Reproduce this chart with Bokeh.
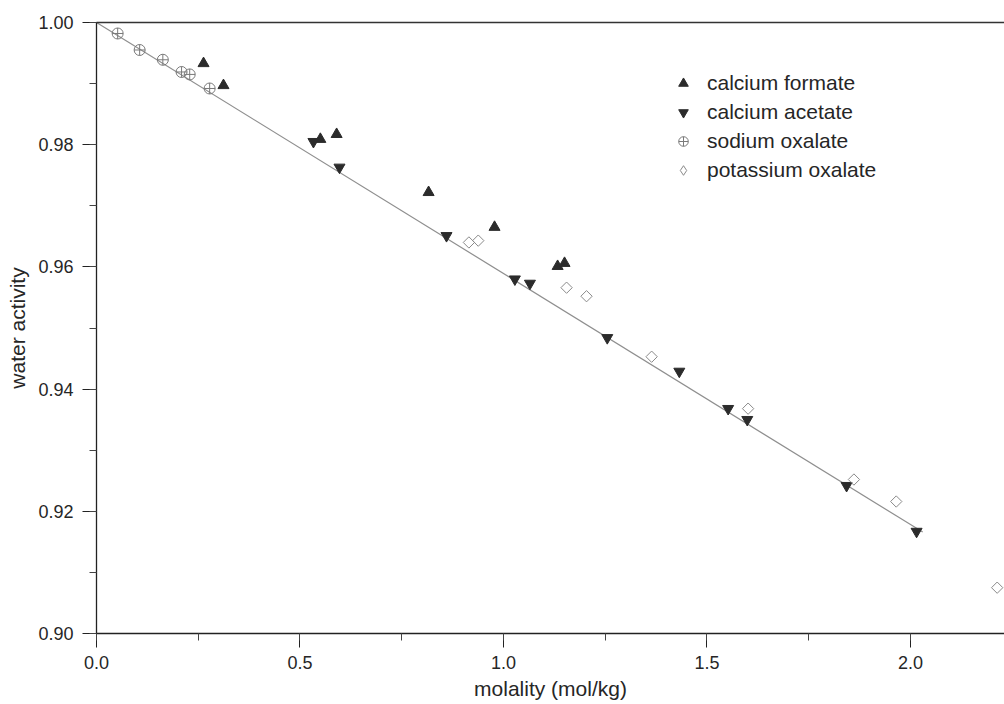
import math
from bokeh.plotting import figure
from bokeh.models import (Range1d, LinearAxis, FixedTicker, Legend, LegendItem,
                          NumeralTickFormatter, SingleIntervalTicker, ColumnDataSource)
from bokeh.embed import file_html
from bokeh.resources import INLINE

# ---- data ----
formate_x = [0.263, 0.312, 0.550, 0.590, 0.816, 0.978, 1.133, 1.150]
formate_y = [0.9933, 0.9897, 0.9809, 0.9817, 0.9722, 0.9665, 0.9601, 0.9606]

acetate_x = [0.533, 0.597, 0.860, 1.028, 1.065, 1.255, 1.432, 1.552, 1.599, 1.843, 2.015]
acetate_y = [0.9805, 0.9763, 0.9651, 0.9580, 0.9573, 0.9484, 0.9429, 0.9368, 0.9350, 0.9242, 0.9167]

sodium_x = [0.052, 0.106, 0.163, 0.209, 0.229, 0.278]
sodium_y = [0.9982, 0.9955, 0.9939, 0.9919, 0.9915, 0.9892]

potassium_x = [0.915, 0.938, 1.155, 1.204, 1.364, 1.601, 1.861, 1.965, 2.213]
potassium_y = [0.9640, 0.9643, 0.9566, 0.9552, 0.9453, 0.9368, 0.9252, 0.9216, 0.9075]

fit_x = [0.0, 2.03]
fit_y = [1.0, 0.9166]

FONT = "Liberation Sans"
TXT = "#262626"

p = figure(width=1004, height=704, output_backend="svg", toolbar_location=None,
           x_range=Range1d(0.0, 2.231), y_range=Range1d(0.90, 1.00),
           min_border_left=96, min_border_right=0, min_border_top=22, min_border_bottom=71,
           background_fill_color="white", border_fill_color="white")
p.outline_line_color = None
p.grid.visible = False

# axes styling
for ax in (p.xaxis[0], p.yaxis[0]):
    ax.axis_line_color = "#222222"
    ax.axis_line_width = 1.3
    ax.major_tick_line_color = "#222222"
    ax.minor_tick_line_color = "#444444"
    ax.major_tick_out = 14
    ax.major_tick_in = 0
    ax.minor_tick_out = 7
    ax.minor_tick_in = 0
    ax.major_label_text_font = FONT
    ax.major_label_text_font_size = "18px"
    ax.major_label_text_color = TXT
    ax.axis_label_text_font = FONT
    ax.axis_label_text_font_size = "21px"
    ax.axis_label_text_font_style = "normal"
    ax.axis_label_text_color = TXT

p.xaxis[0].ticker = SingleIntervalTicker(interval=0.5, num_minor_ticks=2)
p.yaxis[0].ticker = SingleIntervalTicker(interval=0.02, num_minor_ticks=2)
p.xaxis[0].formatter = NumeralTickFormatter(format="0.0")
p.yaxis[0].formatter = NumeralTickFormatter(format="0.00")
p.xaxis[0].axis_label = "molality (mol/kg)"
p.yaxis[0].axis_label = "water activity"
p.xaxis[0].major_label_standoff = 8
p.yaxis[0].major_label_standoff = 9
p.xaxis[0].axis_label_standoff = 5
p.yaxis[0].axis_label_standoff = 6

# top frame line
top = LinearAxis(ticker=FixedTicker(ticks=[]), major_tick_line_color=None,
                 minor_tick_line_color=None, major_label_text_font_size="0px",
                 axis_line_color="#333333", axis_line_width=1.3, major_label_standoff=0)
p.add_layout(top, "above")

# fitted line
p.line(fit_x, fit_y, line_color="#8f8f8f", line_width=1.2)

r_form = p.scatter(formate_x, formate_y, marker="triangle", size=11,
                   fill_color="#2b2b2b", line_color="#2b2b2b")
r_acet = p.scatter(acetate_x, acetate_y, marker="inverted_triangle", size=11,
                   fill_color="#2b2b2b", line_color="#2b2b2b")
r_sod = p.scatter(sodium_x, sodium_y, marker="circle_cross", size=11,
                  fill_color=None, line_color="#7a7a7a", line_width=1)
pot_src = ColumnDataSource(data=dict(x=potassium_x, y=potassium_y))
r_pot = p.scatter("x", "y", source=pot_src, marker="square", size=8, angle=math.pi / 4,
                  fill_color=None, line_color="#8a8a8a", line_width=1)
# legend swatch for potassium oxalate (same data, diamond glyph, hidden in the plot)
r_pot_key = p.scatter("x", "y", source=pot_src, marker="diamond", size=14,
                      fill_color=None, line_color="#8a8a8a", line_width=1)
r_pot_key.visible = False

legend = Legend(items=[
    LegendItem(label="calcium formate", renderers=[r_form]),
    LegendItem(label="calcium acetate", renderers=[r_acet]),
    LegendItem(label="sodium oxalate", renderers=[r_sod]),
    LegendItem(label="potassium oxalate", renderers=[r_pot_key]),
], location=(575, 451))
legend.border_line_color = None
legend.background_fill_alpha = 0
legend.inactive_fill_alpha = 0
legend.padding = 0
legend.margin = 0
legend.spacing = 5
legend.glyph_width = 24
legend.glyph_height = 24
legend.label_height = 24
legend.label_standoff = 12
legend.label_text_font = FONT
legend.label_text_font_size = "21px"
legend.label_text_color = TXT
p.add_layout(legend, "center")

open("out.html", "w").write(file_html(p, INLINE))
